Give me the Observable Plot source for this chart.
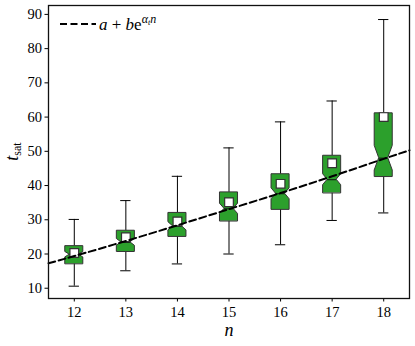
<!DOCTYPE html>
<html>
<head>
<meta charset="utf-8">
<script src="https://cdn.jsdelivr.net/npm/d3@7"></script>
<script src="https://cdn.jsdelivr.net/npm/@observablehq/plot@0.6"></script>
<style>
  html, body { margin: 0; padding: 0; background: white; }
  #chart svg { display: block; }
</style>
</head>
<body>
<div id="chart"></div>
<script>
// ---- data ----
const ns       = [12, 13, 14, 15, 16, 17, 18];
const q1       = [17.1, 20.7, 25.1, 29.6, 33.0, 37.8, 42.6];
const q3       = [22.3, 26.8, 32.0, 38.0, 43.3, 48.7, 61.1];
const medians  = [19.8, 23.4, 28.1, 33.2, 37.6, 41.7, 48.0];
const notchHalf= [0.8, 1.0, 1.2, 1.5, 1.6, 1.6, 3.6];
const whiskLo  = [10.6, 15.1, 17.1, 20.0, 22.7, 29.8, 32.0];
const whiskHi  = [30.1, 35.6, 42.7, 51.0, 58.6, 64.7, 88.5];
const means    = [20.3, 24.9, 29.5, 35.1, 40.5, 46.5, 60.0];
const fitN     = [11.5, 12, 13, 14, 15, 16, 17, 18, 18.5];
const fitT     = [17.3, 19.4, 23.8, 28.4, 33.1, 37.8, 42.7, 47.8, 50.3];
const yTicks   = [10, 20, 30, 40, 50, 60, 70, 80, 90];

// ---- layout constants ----
const HW = 0.175;     // box half width (data units of n)
const CAP = 0.1;      // whisker cap half width
const GREEN = "#2ca02c";
const EDGE = "#333333";
const FONT = "'Liberation Serif', serif";

const boxes = ns.map((n, i) => ({n, q1: q1[i], q3: q3[i], med: medians[i], nh: notchHalf[i],
  lo: whiskLo[i], hi: whiskHi[i], mean: means[i]}));

const outline = boxes.flatMap(b => [
  {n: b.n, y: b.q1,         x1: b.n - HW,     x2: b.n + HW},
  {n: b.n, y: b.med - b.nh, x1: b.n - HW,     x2: b.n + HW},
  {n: b.n, y: b.med,        x1: b.n - HW / 2, x2: b.n + HW / 2},
  {n: b.n, y: b.med + b.nh, x1: b.n - HW,     x2: b.n + HW},
  {n: b.n, y: b.q3,         x1: b.n - HW,     x2: b.n + HW}
]);
const fit = fitN.map((n, i) => ({n, t: fitT[i]}));

const svg = Plot.plot({
  width: 415,
  height: 346,
  marginLeft: 48,
  marginRight: 6,
  marginTop: 5,
  marginBottom: 48,
  style: {fontFamily: FONT, fontSize: "14.5px", color: "black", background: "white"},
  x: {domain: [11.5, 18.5], label: null},
  y: {domain: [7, 92.6], label: null},
  marks: [
    Plot.ruleX(boxes, {x: "n", y1: "lo", y2: "q1", stroke: "black", strokeWidth: 1}),
    Plot.ruleX(boxes, {x: "n", y1: "q3", y2: "hi", stroke: "black", strokeWidth: 1}),
    Plot.ruleY(boxes, {y: "lo", x1: d => d.n - CAP, x2: d => d.n + CAP, stroke: "black", strokeWidth: 1}),
    Plot.ruleY(boxes, {y: "hi", x1: d => d.n - CAP, x2: d => d.n + CAP, stroke: "black", strokeWidth: 1}),
    Plot.areaX(outline, {y: "y", x1: "x1", x2: "x2", z: "n", fill: GREEN, stroke: EDGE, strokeWidth: 1}),
    Plot.ruleY(boxes, {y: "med", x1: d => d.n - HW / 2, x2: d => d.n + HW / 2, stroke: "#111", strokeWidth: 1}),
    Plot.dot(boxes, {x: "n", y: "mean", symbol: "square", r: 4.9, fill: "white", stroke: EDGE, strokeWidth: 1.2}),
    Plot.line(fit, {x: "n", y: "t", curve: "natural", stroke: "black", strokeWidth: 2, strokeDasharray: "7,3.5"}),
    Plot.axisX({ticks: ns, tickFormat: d => String(d), tickSize: 3.5, tickPadding: 5, fontSize: 14.5, label: null}),
    Plot.axisY({ticks: yTicks, tickFormat: d => String(d), tickSize: 3.5, tickPadding: 3, fontSize: 14.5, label: null}),
    Plot.frame({stroke: "#111", strokeWidth: 1.3})
  ]
});

const s = d3.select(svg);
// y label: t_sat
const yl = s.append("text")
  .attr("transform", "translate(18,151.5) rotate(-90)")
  .attr("text-anchor", "middle")
  .attr("font-family", FONT)
  .attr("font-size", 18)
  .attr("fill", "black");
yl.append("tspan").attr("font-style", "italic").text("t");
yl.append("tspan").attr("font-size", 12).attr("dy", 3).text("sat");

// x label: n
s.append("text")
  .attr("x", 229).attr("y", 336)
  .attr("text-anchor", "middle")
  .attr("font-family", FONT)
  .attr("font-style", "italic")
  .attr("font-size", 18)
  .attr("fill", "black")
  .text("n");

// legend
s.append("line")
  .attr("x1", 60).attr("x2", 96).attr("y1", 24).attr("y2", 24)
  .attr("stroke", "black").attr("stroke-width", 2).attr("stroke-dasharray", "7,3.5");
const lg = s.append("text")
  .attr("x", 99).attr("y", 29.5)
  .attr("text-anchor", "start")
  .attr("font-family", FONT)
  .attr("font-size", 17)
  .attr("fill", "black");
lg.append("tspan").attr("font-style", "italic").text("a");
lg.append("tspan").text(" + ");
lg.append("tspan").attr("font-style", "italic").text("b");
lg.append("tspan").text("e");
lg.append("tspan").attr("font-style", "italic").attr("font-size", 12).attr("dy", -7).text("α");
lg.append("tspan").attr("font-style", "italic").attr("font-size", 8).attr("dy", 2).text("t");
lg.append("tspan").attr("font-style", "italic").attr("font-size", 12).attr("dy", -2).text("n");

document.getElementById("chart").appendChild(svg);
</script>
</body>
</html>
